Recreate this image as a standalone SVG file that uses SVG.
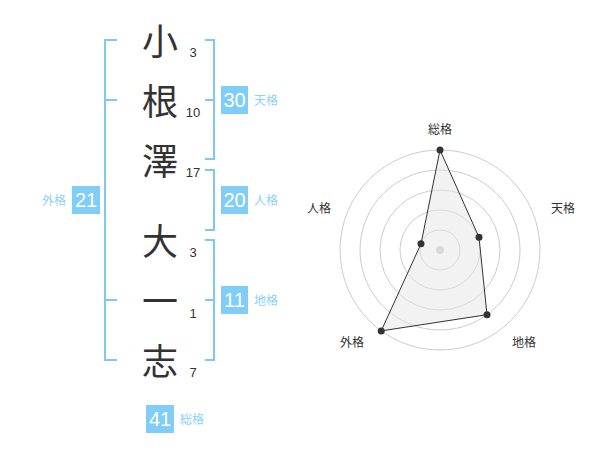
<svg xmlns="http://www.w3.org/2000/svg" width="600" height="470" viewBox="0 0 600 470">
<style>
.k{font-family:"Noto Sans CJK JP","Noto Sans CJK SC",sans-serif;font-size:36px;fill:#333;text-anchor:middle}
.n{font-family:"Liberation Sans",Arial,sans-serif;font-size:13px;fill:#333;text-anchor:middle}
.br{fill:none;stroke:#80c8f0;stroke-width:2}
.box{fill:#80cdf8}
.bt{font-family:"Liberation Sans",Arial,sans-serif;font-size:20px;fill:#fff;text-anchor:middle}
.lb{font-family:"Noto Sans CJK JP","Noto Sans CJK SC",sans-serif;font-size:12px;fill:#8dd0f8}
.ring{fill:none;stroke:#cccccc;stroke-width:1}
.rl{font-family:"Noto Sans CJK JP","Noto Sans CJK SC",sans-serif;font-size:12px;fill:#333;text-anchor:middle}
.dot{fill:#333}
</style>
<rect width="600" height="470" fill="#fff"/>
<g id="chars">
<text class="k" x="160" y="55">小</text>
<text class="k" x="160" y="115">根</text>
<text class="k" x="160" y="175">澤</text>
<text class="k" x="160" y="255">大</text>
<text class="k" x="160" y="315">一</text>
<text class="k" x="160" y="375">志</text>
</g>
<g id="strokes">
<text class="n" x="193" y="57">3</text>
<text class="n" x="193" y="117">10</text>
<text class="n" x="193" y="177">17</text>
<text class="n" x="193" y="257">3</text>
<text class="n" x="193" y="318">1</text>
<text class="n" x="193" y="377">7</text>
</g>
<g id="connectors">
<path class="br" d="M117,40 H105 V360 H117 M105,100 H117 M105,300 H117"/>
<path class="br" d="M205,40 H214 V159 H205 M205,100 H214"/>
<path class="br" d="M205,170 H214 V230 H205"/>
<path class="br" d="M205,240 H214 V360 H205 M205,300 H214"/>
</g>
<g id="tenkaku">
<rect class="box" x="221" y="86" width="27" height="28"/>
<text class="bt" x="234.5" y="107">30</text>
<text class="lb" x="254" y="105">天格</text>
</g>
<g id="jinkaku">
<rect class="box" x="221" y="186" width="27" height="28"/>
<text class="bt" x="234.5" y="207">20</text>
<text class="lb" x="254" y="205">人格</text>
</g>
<g id="chikaku">
<rect class="box" x="221" y="286" width="27" height="28"/>
<text class="bt" x="234.5" y="307">11</text>
<text class="lb" x="254" y="305">地格</text>
</g>
<g id="gaikaku">
<rect class="box" x="72" y="186" width="28" height="28"/>
<text class="bt" x="86" y="207">21</text>
<text class="lb" x="66" y="205" text-anchor="end">外格</text>
</g>
<g id="soukaku">
<rect class="box" x="146" y="405" width="28" height="28"/>
<text class="bt" x="160" y="426">41</text>
<text class="lb" x="180" y="424">総格</text>
</g>
<g id="radar">
<circle class="ring" cx="440" cy="250" r="20"/>
<circle class="ring" cx="440" cy="250" r="40"/>
<circle class="ring" cx="440" cy="250" r="60"/>
<circle class="ring" cx="440" cy="250" r="80"/>
<circle class="ring" cx="440" cy="250" r="100"/>
<circle cx="440" cy="250" r="4" fill="#cccccc"/>
<polygon points="440,150 479,237.3 487,314.7 381.2,330.9 421,243.8" fill="#e6e6e6" fill-opacity="0.5" stroke="#333" stroke-width="1"/>
<circle class="dot" cx="440" cy="150" r="3.5"/>
<circle class="dot" cx="479" cy="237.3" r="3.5"/>
<circle class="dot" cx="487" cy="314.7" r="3.5"/>
<circle class="dot" cx="381.2" cy="330.9" r="3.5"/>
<circle class="dot" cx="421" cy="243.8" r="3.5"/>
<text class="rl" x="440" y="134">総格</text>
<text class="rl" x="563" y="213">天格</text>
<text class="rl" x="524" y="347">地格</text>
<text class="rl" x="352" y="347">外格</text>
<text class="rl" x="319" y="213">人格</text>
</g>
</svg>
